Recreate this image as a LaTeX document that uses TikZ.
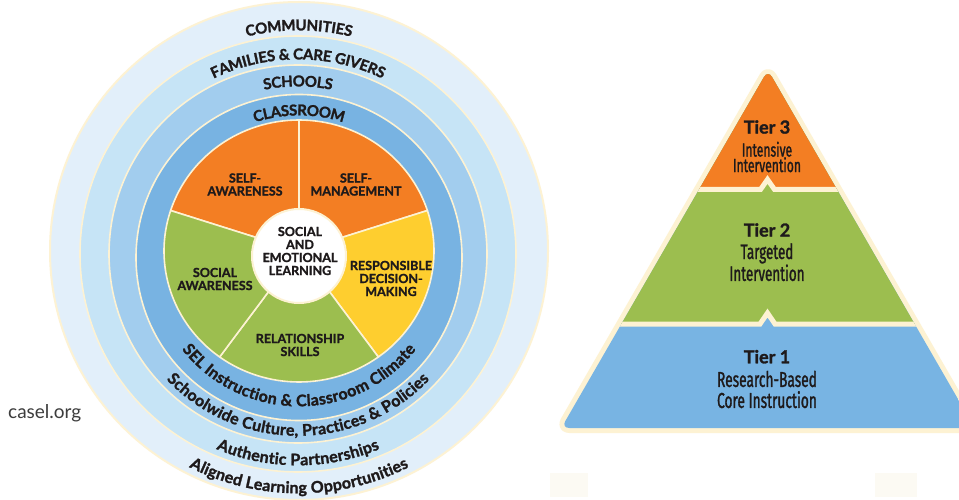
\documentclass[tikz,border=0pt]{standalone}
\usepackage{fontspec}
\setmainfont{Lato}[BoldFeatures={FakeBold=1.5}]
\newfontfamily\condfont[FakeStretch=0.64, FakeBold=1.2]{Fira Sans}
\usetikzlibrary{decorations.text}
\definecolor{comm}{HTML}{E2EFFA}
\definecolor{fam}{HTML}{C6E4F6}
\definecolor{sch}{HTML}{A2CDEE}
\definecolor{cls}{HTML}{78B3E2}
\definecolor{cream}{HTML}{FDF2D3}
\definecolor{sorange}{HTML}{F37E23}
\definecolor{sgreen}{HTML}{9CBE4F}
\definecolor{syellow}{HTML}{FECE2F}
\definecolor{pblue}{HTML}{78B4E3}
\definecolor{dark}{HTML}{1E1A1B}
\definecolor{faint}{HTML}{FCFAF3}
\definecolor{urlgray}{HTML}{3D3D3D}
\newcommand{\topfont}{\fontsize{15}{15}\selectfont\bfseries\color{dark}}
\newcommand{\botfont}{\fontsize{16}{16}\selectfont\bfseries\color{dark}}
\begin{document}
\begin{tikzpicture}[x=1pt,y=1pt,
  sector/.style={draw=cream, line width=1.6, line join=round},
  lab/.style={font=\fontsize{12.5}{13}\selectfont\bfseries, text=dark, inner sep=0, align=center},
  tierlab/.style={font=\fontsize{18}{18}\selectfont\bfseries, text=dark, inner sep=0},
  cond/.style={text=dark, inner sep=0, align=center},
  ring/.style={draw=cream, line width=1.6}]
\useasboundingbox (0,0) rectangle (959,499);
\fill[white] (0,0) rectangle (959,499);
\fill[faint] (550,2) rectangle (588,26);
\fill[faint] (875,2) rectangle (917,26);

% ---------------- wheel ----------------
\filldraw[ring, fill=comm, line width=2] (299,248) circle (249);
\filldraw[ring, fill=fam] (298,245) circle (218);
\filldraw[ring, fill=sch] (298,245) circle (189);
\filldraw[ring, fill=cls] (299,241.5) circle (163);

\coordinate (P) at (299,248);
\filldraw[sector, fill=sorange] (P) -- ++(90:135 and 131) arc[start angle=90, end angle=162, x radius=135, y radius=131] -- cycle;
\filldraw[sector, fill=sorange] (P) -- ++(18:135 and 131) arc[start angle=18, end angle=90, x radius=135, y radius=131] -- cycle;
\filldraw[sector, fill=syellow] (P) -- ++(-54:135 and 131) arc[start angle=-54, end angle=18, x radius=135, y radius=131] -- cycle;
\filldraw[sector, fill=sgreen] (P) -- ++(-126:135 and 131) arc[start angle=-126, end angle=-54, x radius=135, y radius=131] -- cycle;
\filldraw[sector, fill=sgreen] (P) -- ++(162:135 and 131) arc[start angle=162, end angle=234, x radius=135, y radius=131] -- cycle;

\node[circle, fill=white, draw=cream, line width=2, minimum size=94, inner sep=0] (hub) at (299,243) {};
\node[lab] (hubtext) at (300,248) {SOCIAL\\AND\\EMOTIONAL\\LEARNING};

\node[lab] (selfaw) at (245,314.5) {SELF-\\AWARENESS};
\node[lab] (selfman) at (356,314.5) {SELF-\\MANAGEMENT};
\node[lab] (socaw) at (215,220) {SOCIAL\\AWARENESS};
\node[lab] (resp) at (391,220.5) {RESPONSIBLE\\DECISION-\\MAKING};
\node[lab] (rel) at (300,154) {RELATIONSHIP\\SKILLS};

% ring texts, top
\path[decorate, decoration={text along path, text align=center, raise=-5.4pt,
  text={|\topfont|COMMUNITIES}}] (73,248) arc[start angle=180, end angle=0, radius=226];
\path[decorate, decoration={text along path, text align=center, raise=-5.4pt,
  text={|\topfont|FAMILIES {\&} CARE GIVERS}}] (98,245) arc[start angle=180, end angle=0, radius=200];
\path[decorate, decoration={text along path, text align=center, raise=-5.4pt,
  text={|\topfont|SCHOOLS}}] (125,245) arc[start angle=180, end angle=0, radius=173];
\path[decorate, decoration={text along path, text align=center, raise=-5.4pt,
  text={|\topfont|CLASSROOM}}] (151.5,241.5) arc[start angle=180, end angle=0, radius=147.5];
% ring texts, bottom
\path[decorate, decoration={text along path, text align=center, raise=-5.3pt,
  text={|\botfont|SEL Instruction {\&} Classroom Climate}}] (155.5,241.5) arc[start angle=180, end angle=360, radius=143.5];
\path[decorate, decoration={text along path, text align=center, raise=-5.3pt,
  text={|\botfont|Schoolwide Culture, Practices {\&} Policies}}] (121.5,245) arc[start angle=180, end angle=360, radius=176.5];
\path[decorate, decoration={text along path, text align=center, raise=-5.3pt,
  text={|\botfont|Authentic Partnerships}}] (92,245) arc[start angle=180, end angle=360, radius=206];
\path[decorate, decoration={text along path, text align=center, raise=-5.3pt,
  text={|\botfont|Aligned Learning Opportunities}}] (62,248) arc[start angle=180, end angle=360, radius=237];

\node[anchor=west, inner sep=0, text=urlgray, font=\fontsize{19}{19}\selectfont] (url) at (8,86) {casel.org};

% ---------------- pyramid ----------------
\draw[cream, fill=cream, line width=10, line join=round, rounded corners=8] (768,429) -- (561.3,71) -- (974.7,71) -- cycle;
\begin{scope}
\clip[rounded corners=8] (768,429) -- (561.3,71) -- (974.7,71) -- cycle;
\fill[pblue] (500,0) rectangle (1000,500);
\fill[sgreen] (500,175) -- (760,175) -- (767.5,186) -- (775,175) -- (1000,175) -- (1000,500) -- (500,500) -- cycle;
\fill[sorange] (500,309.5) -- (760.5,309.5) -- (767.5,319.5) -- (774.5,309.5) -- (1000,309.5) -- (1000,500) -- (500,500) -- cycle;
\draw[cream, line width=5] (500,175) -- (760,175) -- (767.5,186) -- (775,175) -- (1000,175);
\draw[cream, line width=5] (500,309.5) -- (760.5,309.5) -- (767.5,319.5) -- (774.5,309.5) -- (1000,309.5);
\end{scope}

\node[tierlab] (t3) at (767,372) {Tier 3};
\node[cond, font=\condfont\fontsize{19}{15.5}\selectfont] (t3d) at (767,342) {Intensive\\Intervention};
\node[tierlab] (t2) at (767,269) {Tier 2};
\node[cond, font=\condfont\fontsize{21}{19}\selectfont] (t2d) at (767,236.8) {Targeted\\Intervention};
\node[tierlab] (t1) at (767,142.3) {Tier 1};
\node[cond, font=\condfont\fontsize{21.5}{21}\selectfont] (t1d) at (767,109.5) {Research-Based\\Core Instruction};
\end{tikzpicture}
\end{document}
